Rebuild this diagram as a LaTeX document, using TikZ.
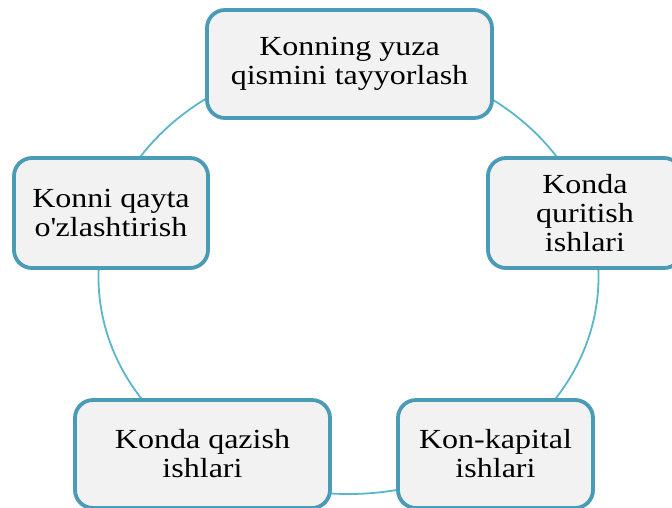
\documentclass[tikz,border=0pt]{standalone}
\usepackage{fontspec}
\setmainfont{Liberation Serif}[FakeStretch=1.16]
\begin{document}
\begin{tikzpicture}[x=1pt,y=-1pt,
  stage/.style={draw=boxline, line width=3.8pt, fill=boxfill, rounded corners=18pt,
    align=center, inner sep=0pt, font=\fontsize{27.6}{29}\selectfont, text=black},
  ring/.style={draw=ringline, line width=1.8pt}]
\definecolor{boxline}{HTML}{4A9BB5}
\definecolor{boxfill}{HTML}{F2F2F2}
\definecolor{ringline}{HTML}{5BB5CB}
\useasboundingbox (0,0) rectangle (672,507);
\clip (0,0) rectangle (672,507);
\coordinate (c) at (348.5,277);
\draw[ring] (c) ellipse [x radius=250pt, y radius=217pt];
\node[stage, minimum width=285pt, minimum height=108pt] (top) at (349.5,64) {Konning yuza\\qismini tayyorlash};
\node[stage, minimum width=194pt, minimum height=110pt] (right) at (585,213) {Konda\\quritish\\ishlari};
\node[stage, minimum width=194pt, minimum height=110pt] (left) at (111,213) {Konni qayta\\o\textquotesingle zlashtirish};
\node[stage, minimum width=255pt, minimum height=108pt] (bl) at (202.5,454) {Konda qazish\\ishlari};
\node[stage, minimum width=195pt, minimum height=108pt] (br) at (495.5,454) {Kon-kapital\\ishlari};
\end{tikzpicture}
\end{document}
